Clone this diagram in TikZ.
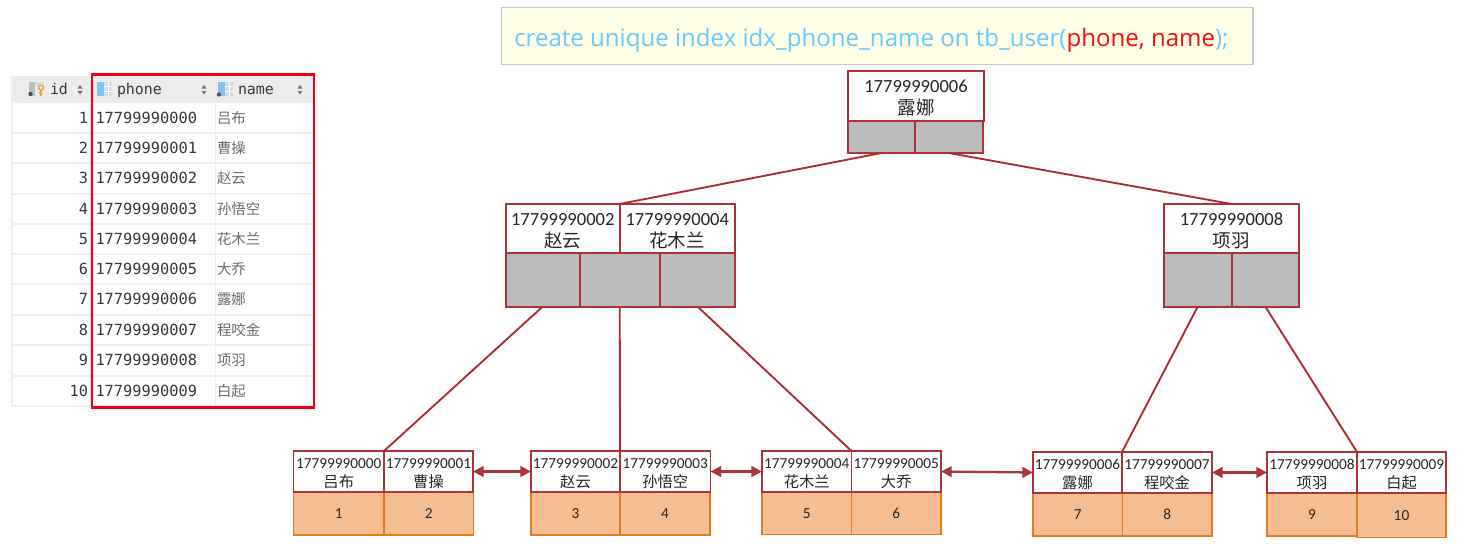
\documentclass[tikz,border=0pt]{standalone}
\usepackage{fontspec}
\usetikzlibrary{arrows.meta}
\setmainfont{Carlito}
\setmonofont{DejaVu Sans Mono}
\newfontfamily\cjk{Noto Sans CJK SC}
\newfontfamily\titlefont{Open Sans}
\definecolor{treeline}{HTML}{B02A30}
\definecolor{linkline}{HTML}{A83636}
\definecolor{boxline}{HTML}{AE3238}
\definecolor{ptrfill}{HTML}{BBBBBB}
\definecolor{valfill}{HTML}{F4BE92}
\definecolor{valline}{HTML}{E47B22}
\definecolor{titleblue}{HTML}{66CCFF}
\definecolor{titlered}{HTML}{F01010}
\definecolor{gridline}{HTML}{EFEFEF}
\definecolor{headfill}{HTML}{ECECEC}
\definecolor{framered}{HTML}{EE0018}
\definecolor{icongrey}{HTML}{B9BEC2}
\definecolor{iconblue}{HTML}{7FC4EC}
\definecolor{icondark}{HTML}{555555}
\definecolor{icongold}{HTML}{E3A83B}
\tikzset{
  cellbase/.style={inner sep=0pt,outer sep=0pt,align=center,text=black!85},
  keybig/.style={cellbase,draw=boxline,line width=1.5pt,fill=white,font=\fontsize{13.9}{16.5}\selectfont},
  keysmall/.style={cellbase,draw=boxline,line width=1.4pt,fill=white,font=\fontsize{11.45}{14.4}\selectfont},
  ptrcell/.style={cellbase,draw=boxline,line width=1.5pt,fill=ptrfill},
  valcell/.style={cellbase,draw=valline,line width=1.4pt,fill=valfill,font=\fontsize{11.5}{14}\selectfont},
  treeedge/.style={draw=treeline,line width=1.4pt},
  linkedge/.style={draw=linkline,line width=1.7pt,{Stealth[length=8pt,width=8pt,inset=0pt]}-{Stealth[length=8pt,width=8pt,inset=0pt]}},
  tablegrid/.style={draw=gridline,line width=0.9pt},
  monotext/.style={inner sep=0pt,outer sep=0pt,font=\ttfamily\fontsize{11.5}{14}\selectfont,text=black!78},
  headtext/.style={inner sep=0pt,outer sep=0pt,font=\ttfamily\fontsize{11.2}{14}\selectfont,text=black!78},
  nametext/.style={inner sep=0pt,outer sep=0pt,font=\cjk\fontsize{10.8}{13}\selectfont,text=black!58},
  sorttip/.style={fill=black!55,draw=none},
}
% name, x1, y1, x2, y2, style, text (pixel coordinates of the reference)
\newcommand{\cellbox}[7]{%
  \pgfmathsetmacro{\cbw}{(#4-#2)*0.75}%
  \pgfmathsetmacro{\cbh}{(#5-#3)*0.75}%
  \pgfmathsetmacro{\cbx}{(#2+#4)/2}%
  \pgfmathsetmacro{\cby}{(#3+#5)/2}%
  \node[#6,minimum width=\cbw pt,minimum height=\cbh pt] (#1) at (\cbx,\cby) {#7};%
}
\newcommand{\kv}[2]{\raisebox{-1.5pt}[0.8em][0.2em]{#1}\\\raisebox{-1.5pt}[0.8em][0.2em]{\cjk #2}}
\newcommand{\sortmark}[1]{%
  \fill[sorttip] (#1-2.5,88.5) -- (#1+2.5,88.5) -- (#1,85) -- cycle;
  \fill[sorttip] (#1-2.5,91) -- (#1+2.5,91) -- (#1,94.5) -- cycle;
}
\newcommand{\columnicon}[1]{%
  \fill[icongrey!55] (#1+7,82) rectangle (#1+15,95.5);
  \draw[white,line width=0.4pt] (#1+7,86.5) -- (#1+15,86.5) (#1+7,91) -- (#1+15,91) (#1+11,82) -- (#1+11,95.5);
  \fill[iconblue] (#1,82) rectangle (#1+7,95.5);
}
\begin{document}
\begin{tikzpicture}[x=0.75pt,y=-0.75pt]
\useasboundingbox (0,0) rectangle (1474,550);

% ---- table ----
\fill[headfill] (12,76) rectangle (314,103);
\foreach \yy in {133,163,194,224,254,284,315,345,376,406}{
  \draw[tablegrid] (12,\yy) -- (314,\yy);
}
\draw[tablegrid] (12,76) -- (12,406);
\draw[tablegrid] (215.5,76) -- (215.5,406);
\draw[tablegrid] (90,76) -- (90,406);

% header icons and labels
\fill[icongrey] (29,82) rectangle (35,95.5);
\fill[icongrey!55] (35,82) rectangle (44,86);
\fill[icondark] (30.5,94) circle (2.2);
\draw[icongold,line width=1.1pt] (41,87.5) circle (2.4);
\draw[icongold,line width=1.2pt] (41,90) -- (41,96) (41,93) -- (38.5,93);
\node[headtext,anchor=base west] (hid) at (50,94.5) {id};
\sortmark{80}
\columnicon{97}
\node[headtext,anchor=base west] (hphone) at (117,94.5) {phone};
\sortmark{204}
\columnicon{218}
\fill[icondark] (219,94.5) circle (2.2);
\node[headtext,anchor=base west] (hname) at (238,94.5) {name};
\sortmark{300}

% rows
\foreach \i/\yy/\nm in {
  1/123.5/吕布,2/153.5/曹操,3/183.5/赵云,4/214/孙悟空,5/244.5/花木兰,
  6/274.5/大乔,7/304.5/露娜,8/335.5/程咬金,9/365.5/项羽,10/396.5/白起}{
  \pgfmathtruncatemacro{\ph}{\i-1}
  \node[monotext,anchor=base east] (id\i) at (88,\yy) {\i};
  \node[monotext,anchor=base west] (ph\i) at (95.5,\yy) {1779999000\ph};
  \node[nametext,anchor=base west] (nm\i) at (217,\yy) {\nm};
}
\node[draw=framered,line width=2.2pt,inner sep=0pt,outer sep=0pt,
      minimum width=166.5pt,minimum height=249.5pt] (frame) at (203,241) {};

% ---- title ----
\node[draw=black!22,line width=1pt,fill=yellow!10,inner sep=0pt,outer sep=0pt,
      minimum width=563.5pt,minimum height=43.2pt] (titlebox) at (877.3,36) {};
\node[anchor=base west,inner sep=0pt,font=\titlefont\fontsize{18.05}{22}\selectfont,text=titleblue] (title)
  at (514,46) {create unique index idx\_phone\_name on tb\_user(\textcolor{titlered}{phone, name});};

% ---- root ----
\cellbox{rootk}{848}{70.5}{984}{120.5}{keybig}{\kv{17799990006}{露娜}}
\cellbox{rootpa}{848}{120.5}{915}{153}{ptrcell}{}
\cellbox{rootpb}{915}{120.5}{983}{153}{ptrcell}{}

% ---- middle left ----
\cellbox{mlka}{506}{204}{619.5}{253}{keybig}{\kv{17799990002}{赵云}}
\cellbox{mlkb}{619.5}{204}{735}{253}{keybig}{\kv{17799990004}{花木兰}}
\cellbox{mlpa}{506}{253}{579.5}{306.5}{ptrcell}{}
\cellbox{mlpb}{579.5}{253}{660}{306.5}{ptrcell}{}
\cellbox{mlpc}{660}{253}{735}{306.5}{ptrcell}{}

% ---- middle right ----
\cellbox{mrk}{1164}{204}{1299}{253}{keybig}{\kv{17799990008}{项羽}}
\cellbox{mrpa}{1164}{253}{1231.5}{306.5}{ptrcell}{}
\cellbox{mrpb}{1231.5}{253}{1299}{306.5}{ptrcell}{}

% ---- leaves ----
\cellbox{av}{293.5}{492}{384}{535}{valcell}{1}
\cellbox{bv}{384}{492}{473.5}{535}{valcell}{2}
\cellbox{ak}{293.5}{451}{384}{492}{keysmall}{\kv{17799990000}{吕布}}
\cellbox{bk}{384}{451}{473}{492}{keysmall}{\kv{17799990001}{曹操}}

\cellbox{cv}{531}{492}{620}{535}{valcell}{3}
\cellbox{dv}{620}{492}{710}{535}{valcell}{4}
\cellbox{ck}{531}{451}{620}{492}{keysmall}{\kv{17799990002}{赵云}}
\cellbox{dk}{620}{451}{710.5}{492}{keysmall}{\kv{17799990003}{孙悟空}}

\cellbox{ev}{762}{492}{851.5}{534.5}{valcell}{5}
\cellbox{fv}{851.5}{492}{941}{534.5}{valcell}{6}
\cellbox{ek}{762}{451}{851.5}{492}{keysmall}{\kv{17799990004}{花木兰}}
\cellbox{fk}{851.5}{451}{941}{492}{keysmall}{\kv{17799990005}{大乔}}

\cellbox{gv}{1033}{493}{1122.5}{536}{valcell}{7}
\cellbox{hv}{1122.5}{493}{1212}{536}{valcell}{8}
\cellbox{gk}{1033}{452}{1122}{493}{keysmall}{\kv{17799990006}{露娜}}
\cellbox{hk}{1122}{452}{1212}{493}{keysmall}{\kv{17799990007}{程咬金}}

\cellbox{iv}{1267}{493}{1357}{536}{valcell}{9}
\cellbox{jv}{1357}{493}{1446}{537.5}{valcell}{10}
\cellbox{ik}{1267}{452}{1357}{493}{keysmall}{\kv{17799990008}{项羽}}
\cellbox{jk}{1357}{452}{1446}{493}{keysmall}{\kv{17799990009}{白起}}

% ---- tree edges ----
\draw[treeedge] (rootpa.south) -- (mlka.north east);
\draw[treeedge] (rootpb.south) -- (mrk.north);
\draw[treeedge] (mlpa.south) -- (ak.north east);
\draw[treeedge] (mlpb.south) -- (ck.north east);
\draw[treeedge] (mlpc.south) -- (ek.north east);
\draw[treeedge] (mrpa.south) -- (gk.north east);
\draw[treeedge] (mrpb.south) -- (ik.north east);

% ---- leaf links ----
\draw[linkedge] (bk.east) -- (ck.west);
\draw[linkedge] (dk.east) -- (ek.west);
\draw[linkedge] (fk.east) -- (gk.west);
\draw[linkedge] (hk.east) -- (ik.west);
\end{tikzpicture}
\end{document}
